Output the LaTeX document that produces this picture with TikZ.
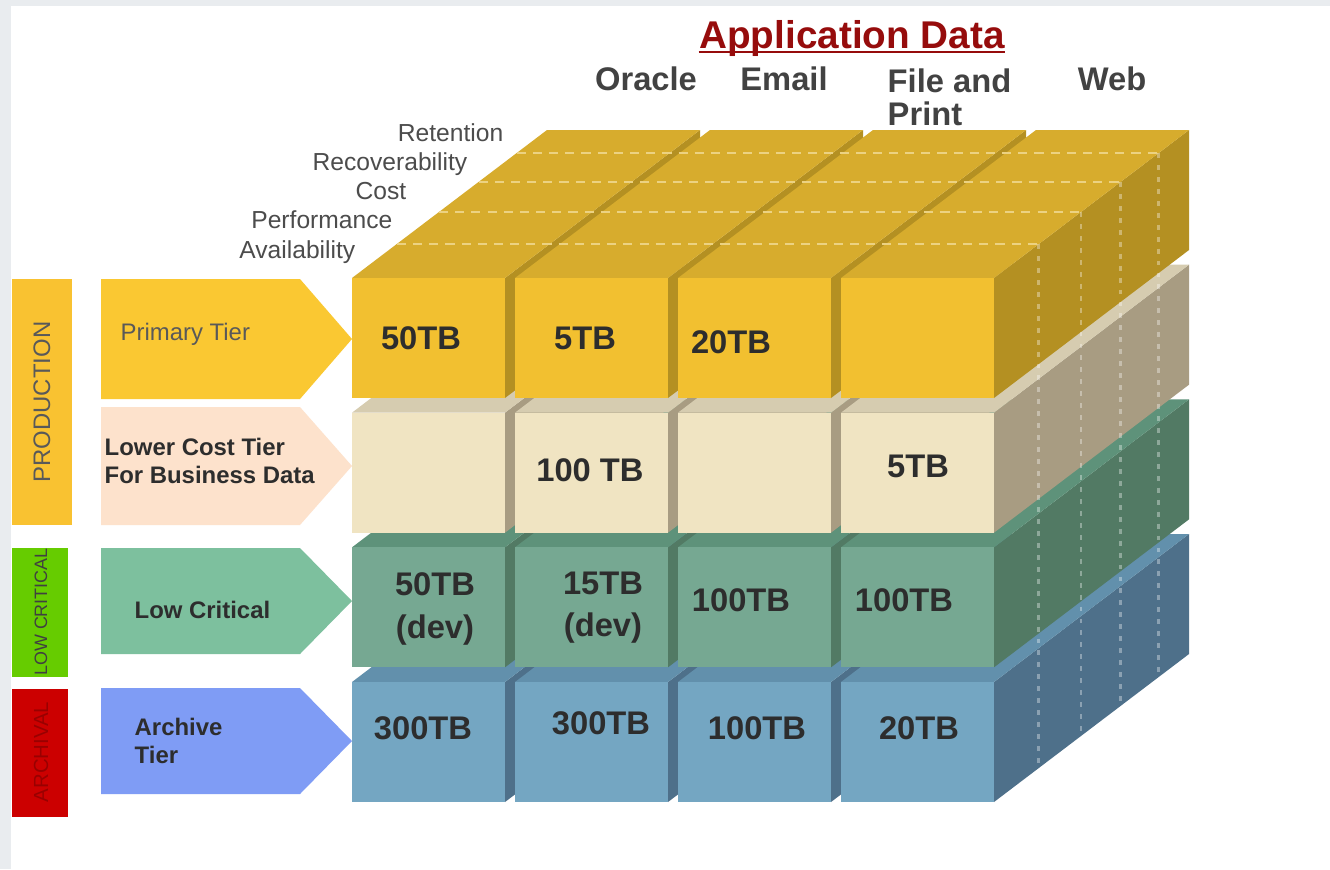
\documentclass[tikz,border=0pt]{standalone}
\usepackage{fontspec}
\setmainfont{Liberation Sans}

\definecolor{frameGray}{RGB}{233,236,239}
\definecolor{yelFront}{RGB}{242,192,48}
\definecolor{yelTop}{RGB}{215,172,45}
\definecolor{yelSide}{RGB}{180,144,34}
\definecolor{crmFront}{RGB}{240,228,194}
\definecolor{crmTop}{RGB}{214,204,176}
\definecolor{crmSide}{RGB}{168,156,130}
\definecolor{grnFront}{RGB}{118,168,146}
\definecolor{grnTop}{RGB}{94,146,122}
\definecolor{grnSide}{RGB}{82,122,100}
\definecolor{bluFront}{RGB}{116,166,194}
\definecolor{bluTop}{RGB}{98,144,172}
\definecolor{bluSide}{RGB}{78,112,138}
\definecolor{arPrimary}{RGB}{250,200,50}
\definecolor{arLower}{RGB}{253,226,204}
\definecolor{arLowCrit}{RGB}{125,192,158}
\definecolor{arArchive}{RGB}{127,156,245}
\definecolor{barProd}{RGB}{249,194,49}
\definecolor{barLow}{RGB}{102,204,0}
\definecolor{barArch}{RGB}{204,0,0}
\definecolor{titleRed}{RGB}{150,12,12}
\definecolor{darkText}{RGB}{45,45,45}
\definecolor{dashTop}{RGB}{236,210,130}

\begin{document}
\begin{tikzpicture}[x=0.01cm, y=-0.01cm,
	every node/.style={inner sep=0pt, text=darkText},
	header/.style={font=\fontsize{9.3}{9.4}\selectfont\bfseries, text=darkText!90!white},
	criteria/.style={font=\fontsize{7}{8}\selectfont, text=black!70, anchor=base east},
	tierlabel/.style={font=\fontsize{6.8}{8}\selectfont\bfseries, align=left, anchor=north west},
	cell/.style={font=\fontsize{9.3}{12}\selectfont\bfseries, align=center},
	vertlabel/.style={rotate=90},
	topdash/.style={draw=dashTop, line width=0.8pt, dash pattern=on 2.6pt off 2pt},
	sidedash/.style={draw=white, opacity=0.35, line width=0.8pt, dash pattern=on 1.4pt off 2pt}]

	\useasboundingbox (0,0) rectangle (1330,869);
	\fill[frameGray] (0,0) rectangle (1330,869);
	\fill[white] (11,6) rectangle (1330,869);

	% the four tier slabs, lowest first
	\foreach \r/\fr/\tp/\sd in {3/bluFront/bluTop/bluSide, 2/grnFront/grnTop/grnSide,
			1/crmFront/crmTop/crmSide, 0/yelFront/yelTop/yelSide}{
		\pgfmathsetmacro{\ya}{278+134.67*\r}
		\pgfmathsetmacro{\yb}{\ya+120}
		\foreach \c in {0,...,3}{
			\pgfmathsetmacro{\xa}{352+163*\c}
			\pgfmathsetmacro{\xb}{\xa+153}
			\fill[\sd] (\xb,\ya) -- ++(195,-148) -- ++(0,120) -- (\xb,\yb) -- cycle;		% side
			\fill[\tp] (\xa,\ya) -- (\xb,\ya) -- ++(195,-148) -- ({\xa+195},{\ya-148}) -- cycle;	% top
			\fill[\fr] (\xa,\ya) rectangle (\xb,\yb);		% front
		}
	}

	% criteria lines on top and side
	\foreach \t in {0.23,0.446,0.649,0.845}{
		\draw[topdash] ({352+195*\t},{278-148*\t}) -- ({994+195*\t},{278-148*\t});
		\draw[sidedash] ({994+195*\t},{278-148*\t}) -- ({994+195*\t},{802-148*\t});
	}

	% title and application columns
	\node[font=\fontsize{11}{12}\selectfont\bfseries, text=titleRed, anchor=base] (title) at (852,48) {Application Data};
	\draw[titleRed, line width=0.6pt] ([yshift=-1.2pt]title.base west) -- ([yshift=-1.2pt]title.base east);
	\node[header, anchor=base] (hOracle) at (646,90) {Oracle};
	\node[header, anchor=base] (hEmail) at (784,90) {Email};
	\node[header, anchor=north west, align=left] (hFile) at (887,68) {File and\\Print};
	\node[header, anchor=base] (hWeb) at (1112,90) {Web};

	% criteria along the top face
	\node[criteria] (cRet) at (504,141) {Retention};
	\node[criteria] (cRec) at (468,170) {Recoverability};
	\node[criteria] (cCost) at (407,199) {Cost};
	\node[criteria] (cPerf) at (393,228) {Performance};
	\node[criteria] (cAvail) at (356,258) {Availability};

	% category bars
	\fill[barProd] (12,279) rectangle (72,525);
	\node[vertlabel, font=\fontsize{6.8}{8}\selectfont, text=black!65] (tProd) at (42,402) {PRODUCTION};
	\fill[barLow] (12,548) rectangle (68,677);
	\node[vertlabel, font=\fontsize{5.1}{6}\selectfont, text=black!75] (tLow) at (41,612) {LOW CRITICAL};
	\fill[barArch] (12,689) rectangle (68,817);
	\node[vertlabel, font=\fontsize{5.8}{6}\selectfont, text=barArch!75!black] (tArch) at (41,752) {ARCHIVAL};

	% tier arrows
	\fill[arPrimary] (101,279) -- (300,279) -- (352,339) -- (300,399) -- (101,399) -- cycle;
	\fill[arLower] (101,407) -- (300,407) -- (352,466) -- (300,525) -- (101,525) -- cycle;
	\fill[arLowCrit] (101,548) -- (300,548) -- (352,601) -- (300,654) -- (101,654) -- cycle;
	\fill[arArchive] (101,688) -- (300,688) -- (352,741) -- (300,794) -- (101,794) -- cycle;

	\node[font=\fontsize{6.8}{8}\selectfont, text=black!65, anchor=base west] (lPrimary) at (120,340) {Primary Tier};
	\node[tierlabel] (lLower) at (104,437) {Lower Cost Tier\\For Business Data};
	\node[tierlabel, anchor=base west] (lLowCrit) at (134,618) {Low Critical};
	\node[tierlabel] (lArchive) at (134,717) {Archive\\Tier};

	% storage per cell
	\node[cell] (v11) at (421,338) {50TB};
	\node[cell] (v12) at (585,338) {5TB};
	\node[cell] (v13) at (731,342) {20TB};
	\node[cell] (v22) at (590,470) {100 TB};
	\node[cell] (v24) at (918,466) {5TB};
	\node[cell] (v31) at (435,609) {50TB\\(dev)};
	\node[cell] (v32) at (603,608) {15TB\\(dev)};
	\node[cell] (v33) at (741,600) {100TB};
	\node[cell] (v34) at (904,600) {100TB};
	\node[cell] (v41) at (423,728) {300TB};
	\node[cell] (v42) at (601,723) {300TB};
	\node[cell] (v43) at (757,728) {100TB};
	\node[cell] (v44) at (919,728) {20TB};

\end{tikzpicture}
\end{document}
